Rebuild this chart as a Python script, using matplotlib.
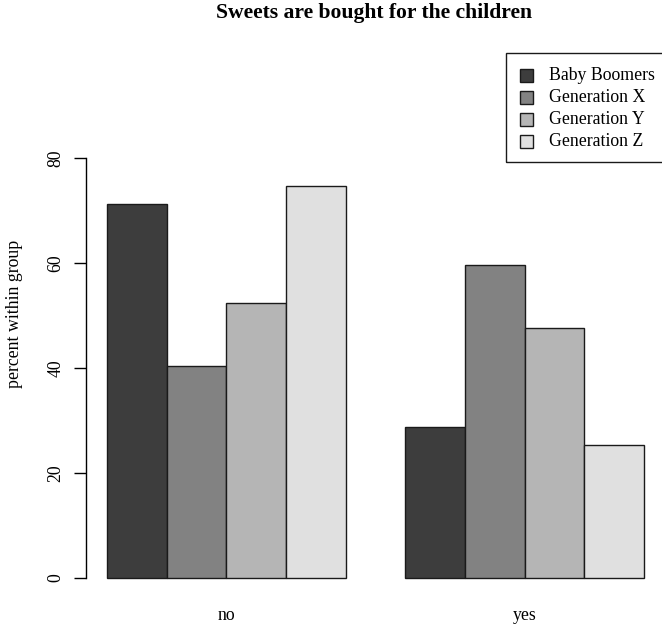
import matplotlib
matplotlib.use("Agg")
import matplotlib.pyplot as plt
from matplotlib.patches import Rectangle

groups = ["no", "yes"]
generations = ["Baby Boomers", "Generation X", "Generation Y", "Generation Z"]
pct_no = [71.2, 40.3, 52.3, 74.6]
pct_yes = [28.8, 59.7, 47.7, 25.4]
colors = ["#3d3d3d", "#828282", "#b5b5b5", "#e0e0e0"]
yticks = [0, 20, 40, 60, 80]

W, H = 662, 626
fig = plt.figure(figsize=(W / 100, H / 100), dpi=100)
plt.rcParams["font.family"] = ["Liberation Serif", "DejaVu Serif"]
FS = 12.8


def fx(px):
    return px / W


def fy(py):
    return 1 - py / H


# plot region in pixel terms (left, right, top, bottom)
L, R, T, B = 85.5, 665.5, 32.0, 599.0
ax = fig.add_axes([fx(L), fy(B), fx(R) - fx(L), fy(T) - fy(B)])
ax.set_xlim(0.64, 10.36)
ax.set_ylim(-4, 104)

values = [pct_no, pct_yes]
for g, vals in enumerate(values):
    start = 1 + g * 5
    for i, v in enumerate(vals):
        ax.bar(start + i, v, width=1, align="edge", color=colors[i],
               edgecolor="#1a1a1a", linewidth=1.0)

for s in ["top", "right", "bottom"]:
    ax.spines[s].set_visible(False)
ax.spines["left"].set_bounds(0, 80)
ax.spines["left"].set_linewidth(1.0)
ax.set_yticks(yticks)
ax.set_yticklabels([str(t) for t in yticks], rotation=90, va="center",
                   fontsize=FS)
ax.tick_params(axis="y", length=9, width=1.0, pad=6)
ax.set_xticks([3, 8])
ax.set_xticklabels(groups, fontsize=FS)
ax.tick_params(axis="x", length=0, pad=6)

fig.text(fx(15), fy(314), "percent within group", rotation=90,
         ha="center", va="center", fontsize=FS)
fig.text(fx(374), fy(13), "Sweets are bought for the children",
         ha="center", va="center", fontsize=15.6, fontweight="bold")

# legend
fig.patches.append(Rectangle((fx(505.5), fy(162)), fx(700) - fx(505.5),
                             fy(53) - fy(162), transform=fig.transFigure,
                             fill=False, edgecolor="#1a1a1a", linewidth=1.0))
for i, name in enumerate(generations):
    cy = 75 + i * 22
    fig.patches.append(Rectangle((fx(520), fy(cy + 6.5)), fx(13), 13 / H,
                                 transform=fig.transFigure,
                                 facecolor=colors[i], edgecolor="#1a1a1a",
                                 linewidth=1.0))
    fig.text(fx(549), fy(cy), name, ha="left", va="center", fontsize=FS)

fig.savefig("out.png", dpi=100)
